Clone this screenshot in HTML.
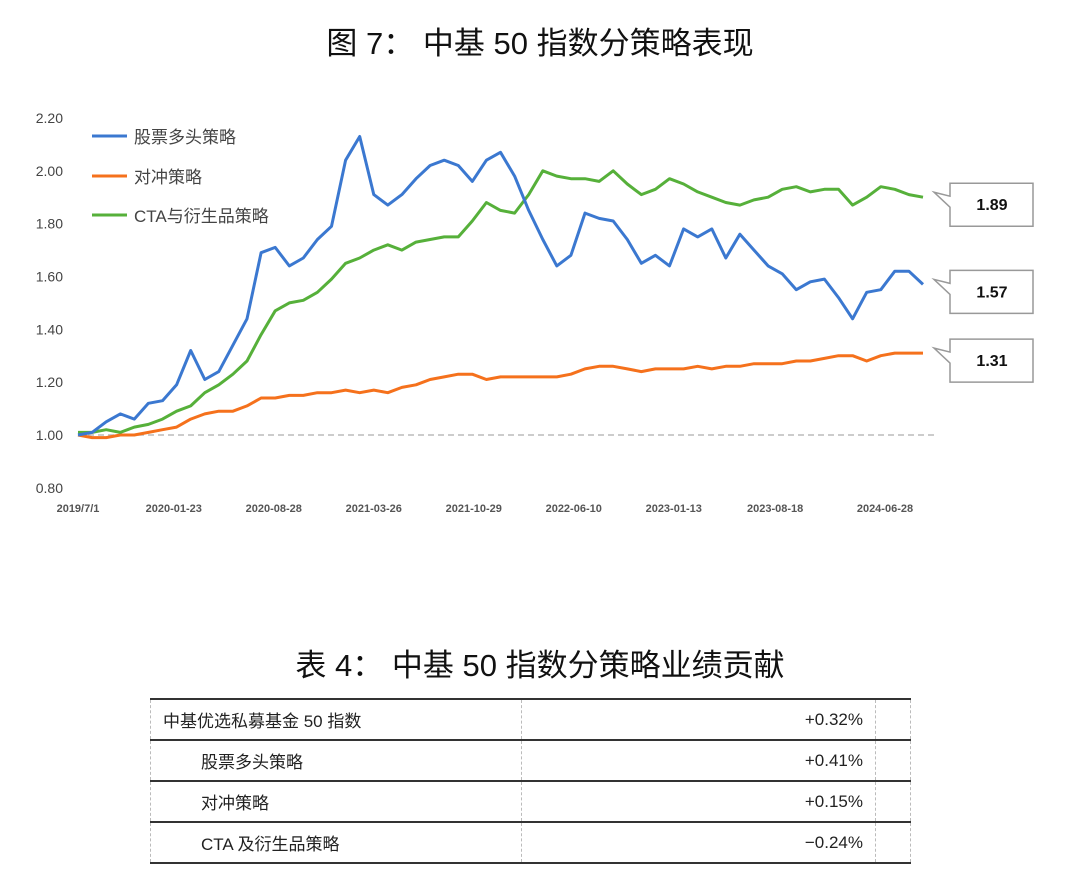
<!DOCTYPE html>
<html><head><meta charset="utf-8"><style>
body{margin:0;background:#fff;width:1080px;height:873px;overflow:hidden;font-family:"Liberation Sans","Noto Sans CJK SC",sans-serif;}
.t{position:absolute;left:0;width:1080px;text-align:center;font-size:31px;color:#111;font-family:"Liberation Sans","Noto Sans CJK SC",sans-serif;}
table{position:absolute;left:150px;top:698px;width:760px;border-collapse:collapse;table-layout:fixed;font-family:"Liberation Sans","Noto Sans CJK SC",sans-serif;font-size:17px;color:#222;}
td{height:39px;border-top:2px solid #333;border-bottom:2px solid #333;border-left:1px dashed #bbb;border-right:1px dashed #bbb;padding:0;}
</style></head><body>
<div class="t" style="top:18px;">图 7： 中基 50 指数分策略表现</div>
<svg id="c" width="1080" height="560" style="position:absolute;left:0;top:0"></svg>
<div class="t" style="top:640px;">表 4： 中基 50 指数分策略业绩贡献</div>
<table>
<colgroup><col style="width:371px"><col style="width:354px"><col style="width:35px"></colgroup>
<tr><td style="padding-left:12px">中基优选私募基金 50 指数</td><td style="text-align:right;padding-right:12px">+0.32%</td><td></td></tr>
<tr><td style="padding-left:50px">股票多头策略</td><td style="text-align:right;padding-right:12px">+0.41%</td><td></td></tr>
<tr><td style="padding-left:50px">对冲策略</td><td style="text-align:right;padding-right:12px">+0.15%</td><td></td></tr>
<tr><td style="padding-left:50px">CTA 及衍生品策略</td><td style="text-align:right;padding-right:12px">−0.24%</td><td></td></tr>
</table>
<script>
const months=[];for(let i=0;i<=60;i++)months.push(i);
const stockValues=[1.00,1.01,1.05,1.08,1.06,1.12,1.13,1.19,1.32,1.21,1.24,1.34,1.44,1.69,1.71,1.64,1.67,1.74,1.79,2.04,2.13,1.91,1.87,1.91,1.97,2.02,2.04,2.02,1.96,2.04,2.07,1.98,1.85,1.74,1.64,1.68,1.84,1.82,1.81,1.74,1.65,1.68,1.64,1.78,1.75,1.78,1.67,1.76,1.70,1.64,1.61,1.55,1.58,1.59,1.52,1.44,1.54,1.55,1.62,1.62,1.57];
const hedgeValues=[1.00,0.99,0.99,1.00,1.00,1.01,1.02,1.03,1.06,1.08,1.09,1.09,1.11,1.14,1.14,1.15,1.15,1.16,1.16,1.17,1.16,1.17,1.16,1.18,1.19,1.21,1.22,1.23,1.23,1.21,1.22,1.22,1.22,1.22,1.22,1.23,1.25,1.26,1.26,1.25,1.24,1.25,1.25,1.25,1.26,1.25,1.26,1.26,1.27,1.27,1.27,1.28,1.28,1.29,1.30,1.30,1.28,1.30,1.31,1.31,1.31];
const ctaValues=[1.01,1.01,1.02,1.01,1.03,1.04,1.06,1.09,1.11,1.16,1.19,1.23,1.28,1.38,1.47,1.50,1.51,1.54,1.59,1.65,1.67,1.70,1.72,1.70,1.73,1.74,1.75,1.75,1.81,1.88,1.85,1.84,1.91,2.00,1.98,1.97,1.97,1.96,2.00,1.95,1.91,1.93,1.97,1.95,1.92,1.90,1.88,1.87,1.89,1.90,1.93,1.94,1.92,1.93,1.93,1.87,1.90,1.94,1.93,1.91,1.90];
const yTicks=[0.80,1.00,1.20,1.40,1.60,1.80,2.00,2.20];
const xTickLabels=["2019/7/1","2020-01-23","2020-08-28","2021-03-26","2021-10-29","2022-06-10","2023-01-13","2023-08-18","2024-06-28"];
const xTickMonths=[0,6.8,13.9,21,28.1,35.2,42.3,49.5,57.3];
const endLabels=["1.89","1.57","1.31"];
const svg=document.getElementById('c');const NS='http://www.w3.org/2000/svg';
const X=m=>78+m*(845/60);const Y=v=>435-(v-1)*264.2;
function mk(t,a,txt){const e=document.createElementNS(NS,t);for(const k in a)e.setAttribute(k,a[k]);if(txt!=null)e.textContent=txt;svg.appendChild(e);return e;}
yTicks.forEach(v=>{const e=mk('text',{x:63,y:Y(v)+5,'text-anchor':'end','font-size':14,fill:'#444','font-family':'Liberation Sans'},v.toFixed(2));

});
xTickLabels.forEach((l,i)=>{const e=mk('text',{x:X(xTickMonths[i]),y:512,'text-anchor':'middle','font-size':11,'font-weight':'bold',fill:'#555','font-family':'Liberation Sans'},l);

});
const base=mk('line',{x1:78,x2:935,y1:Y(1),y2:Y(1),stroke:'#bbb','stroke-width':1.5,'stroke-dasharray':'6,4'});


const series=[[hedgeValues,'#f5711c','hedge-line'],[ctaValues,'#56b03a','cta-line'],[stockValues,'#3b78d0','stock-line']];
series.forEach(s=>{const d=s[0].map((v,i)=>(i?'L':'M')+X(months[i]).toFixed(1)+','+Y(v).toFixed(1)).join('');
const p=mk('path',{d:d,fill:'none',stroke:s[1],'stroke-width':3,'stroke-linejoin':'round'});

});
const leg=[['股票多头策略','#3b78d0',137],['对冲策略','#f5711c',177],['CTA与衍生品策略','#56b03a',216]];
leg.forEach(l=>{const ln=mk('line',{x1:92,x2:127,y1:l[2]-1,y2:l[2]-1,stroke:l[1],'stroke-width':3});


const t=mk('text',{x:134,y:l[2]+6,'font-size':17,fill:'#444','font-family':'Liberation Sans, Noto Sans CJK SC, sans-serif'},l[0]);

});
const finals=[ctaValues[60],stockValues[60],hedgeValues[60]];
finals.forEach((v,i)=>{const cy=Y(v)+7;const top=cy-21,bot=cy+22;
const pth=mk('path',{d:`M950,${top} H1033 V${bot} H950 V${cy+3} L934,${Y(v)-5} L950,${cy-8} Z`,fill:'#fff',stroke:'#999','stroke-width':1.5});


const t=mk('text',{x:992,y:cy+6,'text-anchor':'middle','font-size':16,'font-weight':'bold',fill:'#111','font-family':'Liberation Sans'},endLabels[i]);

});
</script>
</body></html>
